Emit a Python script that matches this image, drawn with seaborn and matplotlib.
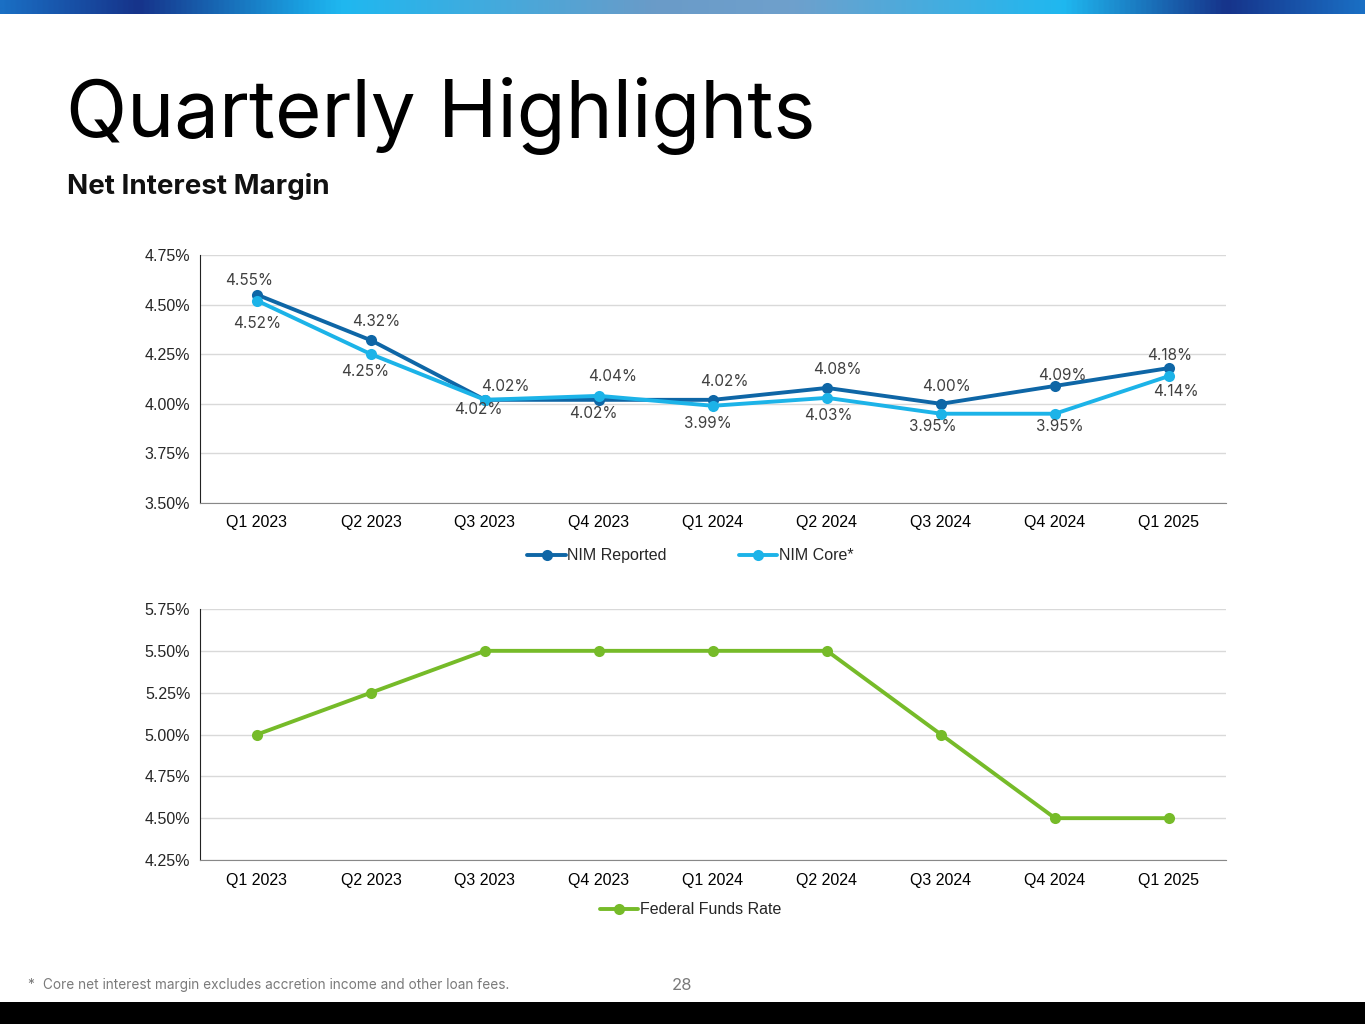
import matplotlib
matplotlib.use('Agg')

import numpy as np
import pandas as pd
import matplotlib.pyplot as plt
import seaborn as sns
from matplotlib.colors import LinearSegmentedColormap
from matplotlib.ticker import FuncFormatter, FixedLocator

# datos
quarters = ['Q1 2023', 'Q2 2023', 'Q3 2023', 'Q4 2023', 'Q1 2024',
            'Q2 2024', 'Q3 2024', 'Q4 2024', 'Q1 2025']
nim_reported = [4.55, 4.32, 4.02, 4.02, 4.02, 4.08, 4.00, 4.09, 4.18]
nim_core = [4.52, 4.25, 4.02, 4.04, 3.99, 4.03, 3.95, 3.95, 4.14]
fed_funds = [5.00, 5.25, 5.50, 5.50, 5.50, 5.50, 5.00, 4.50, 4.50]

c_rep = '#0e66a6'
c_core = '#1cb3e8'
c_fed = '#76bb29'
txt_gray = '#404040'

sns.set_style('white')
plt.rcParams['font.family'] = ['Liberation Sans', 'DejaVu Sans']

fig = plt.figure(figsize=(13.65, 10.24), dpi=100)

# barra degradada arriba
bar = fig.add_axes([0, 1 - 14 / 1024, 1, 14 / 1024])
cmap = LinearSegmentedColormap.from_list('top', [
    (0.0, '#1a6fc4'), (0.10, '#16338a'), (0.22, '#1a9fe0'), (0.25, '#1fb8f0'),
    (0.48, '#6a9bc8'), (0.58, '#6fa0cc'), (0.78, '#1fb8f0'), (0.90, '#16338a'),
    (1.0, '#1a6fc4')])
bar.imshow(np.linspace(0, 1, 512)[None, :], aspect='auto', cmap=cmap)
bar.axis('off')

# barra negra abajo
bot = fig.add_axes([0, 0, 1, 22 / 1024])
bot.set_facecolor('black')
bot.set_xticks([])
bot.set_yticks([])
for s in bot.spines.values():
    s.set_visible(False)

# textos
fig.text(66 / 1365, 1 - 116 / 1024, 'Quarterly Highlights', fontsize=57.5,
         family=['Inter', 'DejaVu Sans'], color='black', va='center')
fig.text(67 / 1365, 1 - 187 / 1024, 'Net Interest Margin', fontsize=20,
         weight='bold', family=['Inter', 'DejaVu Sans'], color='#111111', va='center')
fig.text(43 / 1365, 1 - 985 / 1024,
         'Core net interest margin excludes accretion income and other loan fees.',
         fontsize=9.8, color='#7a7a7a', family=['Inter', 'DejaVu Sans'], va='center')
fig.text(27 / 1365, 1 - 985 / 1024, '*', fontsize=9.8, color='#7a7a7a',
         family=['Inter', 'DejaVu Sans'], va='center')
fig.text(682 / 1365, 1 - 986 / 1024, '28', fontsize=12, color='#7a7a7a',
         family=['Inter', 'DejaVu Sans'], ha='center', va='center')


def estilo(ax, ymin, ymax):
    ax.set_xlim(-0.5, len(quarters) - 0.5)
    ax.set_ylim(ymin, ymax)
    ax.set_yticks(np.arange(ymin, ymax + 0.001, 0.25))
    ax.yaxis.set_major_formatter(FuncFormatter(lambda v, p: f'{v:.2f}%'))
    ax.grid(axis='y', color='#d9d9d9', linewidth=1)
    ax.set_axisbelow(True)
    for s in ['top', 'right']:
        ax.spines[s].set_visible(False)
    ax.spines['left'].set_color('#222222')
    ax.spines['bottom'].set_color('#888888')
    ax.set_xticks(range(len(quarters)))
    ax.set_xticklabels(quarters)
    ax.xaxis.set_minor_locator(FixedLocator(np.arange(-0.5, len(quarters), 1.0)))
    ax.tick_params(axis='x', which='major', length=0, pad=9, labelsize=11.5, colors='black')
    ax.tick_params(axis='x', which='minor', length=5, color='#888888')
    ax.tick_params(axis='y', length=5, color='#222222', labelsize=11.5, pad=2)
    ax.set_xlabel('')
    ax.set_ylabel('')


# grafico NIM
ax1 = fig.add_axes([200 / 1365, 1 - 503 / 1024, 1026 / 1365, 248 / 1024])
df_nim = pd.DataFrame({
    'quarter': quarters * 2,
    'valor': nim_reported + nim_core,
    'serie': ['NIM Reported'] * len(quarters) + ['NIM Core*'] * len(quarters),
})
sns.lineplot(data=df_nim, x='quarter', y='valor', hue='serie', ax=ax1,
             palette={'NIM Reported': c_rep, 'NIM Core*': c_core},
             marker='o', markersize=8, markeredgewidth=0, linewidth=2.8, sort=False)
estilo(ax1, 3.5, 4.75)

# desplazamientos de etiquetas (puntos)
dx_arriba = [-5.8, 3.6, 14.4, 10, 7.9, 7.2, 4.3, 5, 0.7]
dy_arriba = [9.9, 13.9, 9.9, 14.3, 13.5, 13.6, 12.8, 7.8, 9.4]
dx_abajo = [0, -4.3, -5, -4.3, -3.6, 0.7, -5.8, 3.6, 5]
dy_abajo = [-16.8, -12.8, -7.3, -10.2, -13.1, -12.4, -8.9, -8.9, -10.8]
lab_font = ['Inter', 'DejaVu Sans']
for i, (r, c) in enumerate(zip(nim_reported, nim_core)):
    if r >= c:
        arriba, abajo = r, c
    else:
        arriba, abajo = c, r
    ax1.annotate(f'{arriba:.2f}%', (i, arriba), xytext=(dx_arriba[i], dy_arriba[i]),
                 textcoords='offset points', ha='center', va='center',
                 fontsize=11, color=txt_gray, family=lab_font)
    ax1.annotate(f'{abajo:.2f}%', (i, abajo), xytext=(dx_abajo[i], dy_abajo[i]),
                 textcoords='offset points', ha='center', va='center',
                 fontsize=11, color=txt_gray, family=lab_font)

ax1.legend(loc='upper center', bbox_to_anchor=(0.478, -0.125), ncol=2, frameon=False,
           fontsize=11.5, handlelength=2.4, columnspacing=4.5, handletextpad=0.1)

# grafico Fed Funds
ax2 = fig.add_axes([200 / 1365, 1 - 860 / 1024, 1026 / 1365, 251 / 1024])
df_fed = pd.DataFrame({'quarter': quarters, 'valor': fed_funds,
                       'serie': ['Federal Funds Rate'] * len(quarters)})
sns.lineplot(data=df_fed, x='quarter', y='valor', hue='serie', ax=ax2,
             palette={'Federal Funds Rate': c_fed},
             marker='o', markersize=8, markeredgewidth=0, linewidth=2.8, sort=False)
estilo(ax2, 4.25, 5.75)
ax2.legend(loc='upper center', bbox_to_anchor=(0.478, -0.112), ncol=1, frameon=False,
           fontsize=11.5, handlelength=2.4, handletextpad=0.1)

fig.savefig('out.png', dpi=100)
